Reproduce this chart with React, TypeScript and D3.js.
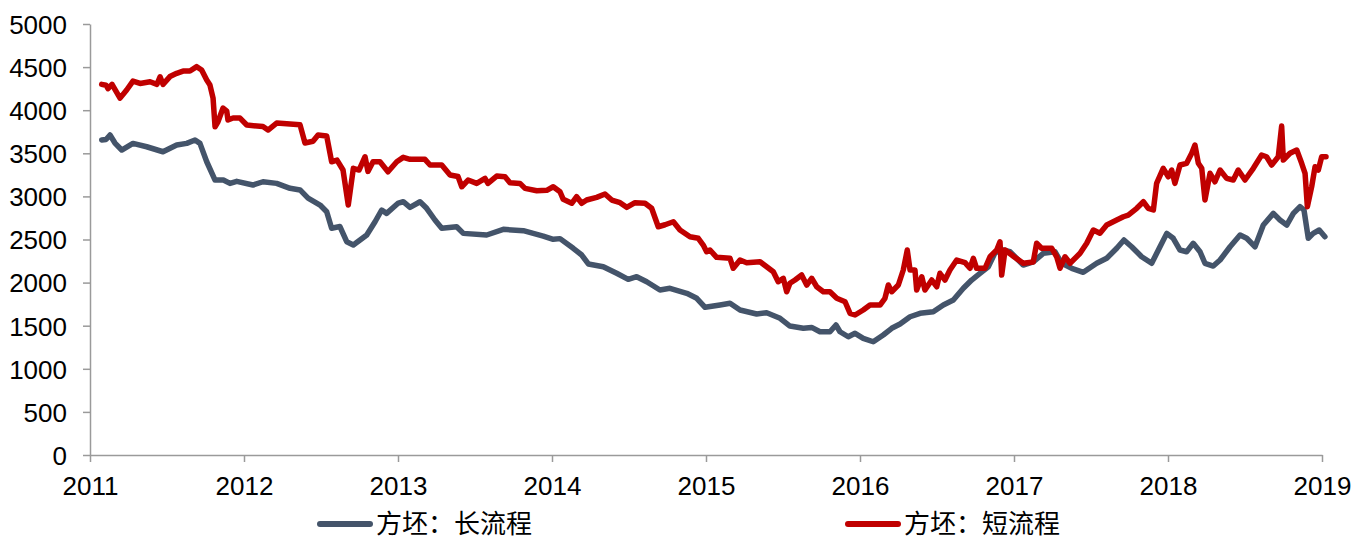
import React, { useEffect, useRef } from 'react';
import * as d3 from 'd3';

// [decimal year, price]
const longProcess: [number, number][] = [
  [2011.076, 3654], [2011.104, 3660], [2011.13, 3712], [2011.162, 3619], [2011.206, 3538],
  [2011.279, 3615], [2011.368, 3576], [2011.474, 3518], [2011.563, 3596], [2011.628, 3615],
  [2011.682, 3654], [2011.714, 3615], [2011.758, 3402], [2011.812, 3190], [2011.866, 3190],
  [2011.909, 3151], [2011.953, 3175], [2012.058, 3132], [2012.123, 3170], [2012.212, 3151],
  [2012.299, 3094], [2012.364, 3075], [2012.416, 2980], [2012.494, 2900], [2012.537, 2822],
  [2012.569, 2631], [2012.623, 2650], [2012.667, 2474], [2012.71, 2436], [2012.797, 2552],
  [2012.851, 2706], [2012.894, 2842], [2012.926, 2803], [2013.002, 2923], [2013.034, 2938],
  [2013.078, 2873], [2013.143, 2938], [2013.186, 2862], [2013.24, 2726], [2013.284, 2630],
  [2013.381, 2648], [2013.424, 2571], [2013.576, 2552], [2013.684, 2618], [2013.814, 2602],
  [2013.943, 2540], [2014.008, 2502], [2014.052, 2510], [2014.138, 2398], [2014.193, 2320],
  [2014.236, 2216], [2014.333, 2184], [2014.42, 2108], [2014.495, 2038], [2014.55, 2068],
  [2014.615, 2010], [2014.701, 1914], [2014.766, 1934], [2014.875, 1876], [2014.94, 1818],
  [2014.994, 1713], [2015.091, 1740], [2015.156, 1760], [2015.221, 1682], [2015.329, 1636],
  [2015.394, 1650], [2015.481, 1586], [2015.545, 1496], [2015.632, 1470], [2015.686, 1480],
  [2015.74, 1430], [2015.805, 1430], [2015.844, 1508], [2015.87, 1430], [2015.924, 1372],
  [2015.968, 1412], [2016.021, 1354], [2016.086, 1314], [2016.151, 1392], [2016.206, 1470],
  [2016.26, 1520], [2016.325, 1604], [2016.39, 1644], [2016.476, 1662], [2016.541, 1740],
  [2016.606, 1798], [2016.671, 1934], [2016.725, 2030], [2016.779, 2108], [2016.833, 2184],
  [2016.877, 2347], [2016.93, 2378], [2016.974, 2358], [2017.06, 2204], [2017.125, 2240],
  [2017.19, 2340], [2017.266, 2358], [2017.31, 2224], [2017.375, 2166], [2017.45, 2119],
  [2017.537, 2224], [2017.602, 2282], [2017.667, 2398], [2017.714, 2494], [2017.764, 2416],
  [2017.829, 2300], [2017.894, 2224], [2017.948, 2416], [2017.992, 2571], [2018.034, 2514],
  [2018.078, 2378], [2018.121, 2358], [2018.164, 2456], [2018.208, 2358], [2018.24, 2224],
  [2018.294, 2192], [2018.338, 2262], [2018.403, 2416], [2018.468, 2552], [2018.511, 2514],
  [2018.565, 2416], [2018.619, 2668], [2018.684, 2803], [2018.727, 2726], [2018.771, 2668],
  [2018.814, 2803], [2018.857, 2880], [2018.883, 2842], [2018.911, 2514], [2018.943, 2571],
  [2018.982, 2610], [2019.019, 2532]
];

const shortProcess: [number, number][] = [
  [2011.076, 4300], [2011.104, 4290], [2011.117, 4250], [2011.143, 4300], [2011.195, 4140],
  [2011.238, 4234], [2011.279, 4338], [2011.325, 4310], [2011.39, 4330], [2011.435, 4300],
  [2011.455, 4388], [2011.474, 4300], [2011.519, 4390], [2011.563, 4428], [2011.604, 4454],
  [2011.649, 4454], [2011.693, 4505], [2011.725, 4466], [2011.758, 4350], [2011.779, 4292],
  [2011.799, 4141], [2011.812, 3808], [2011.831, 3866], [2011.864, 4025], [2011.888, 3990],
  [2011.896, 3886], [2011.929, 3909], [2011.974, 3909], [2012.018, 3828], [2012.123, 3810],
  [2012.156, 3770], [2012.212, 3851], [2012.299, 3840], [2012.364, 3830], [2012.396, 3619],
  [2012.448, 3640], [2012.481, 3712], [2012.537, 3700], [2012.569, 3402], [2012.604, 3421],
  [2012.643, 3306], [2012.677, 2900], [2012.71, 3326], [2012.747, 3306], [2012.786, 3460],
  [2012.805, 3290], [2012.838, 3402], [2012.883, 3402], [2012.935, 3286], [2012.992, 3402],
  [2013.034, 3453], [2013.078, 3430], [2013.175, 3430], [2013.208, 3364], [2013.284, 3364],
  [2013.338, 3248], [2013.39, 3230], [2013.414, 3112], [2013.455, 3190], [2013.511, 3151],
  [2013.565, 3209], [2013.584, 3151], [2013.641, 3236], [2013.695, 3228], [2013.727, 3159],
  [2013.792, 3151], [2013.825, 3093], [2013.901, 3066], [2013.966, 3070], [2014.008, 3112],
  [2014.052, 3054], [2014.073, 2966], [2014.128, 2920], [2014.16, 2996], [2014.193, 2920],
  [2014.225, 2958], [2014.29, 2989], [2014.344, 3028], [2014.388, 2958], [2014.442, 2927],
  [2014.485, 2873], [2014.539, 2927], [2014.604, 2920], [2014.647, 2862], [2014.69, 2648],
  [2014.734, 2671], [2014.788, 2706], [2014.831, 2610], [2014.896, 2532], [2014.95, 2514],
  [2014.982, 2436], [2015.004, 2358], [2015.026, 2378], [2015.069, 2293], [2015.156, 2282],
  [2015.177, 2166], [2015.221, 2262], [2015.264, 2231], [2015.351, 2242], [2015.394, 2184],
  [2015.437, 2126], [2015.469, 2010], [2015.502, 2049], [2015.524, 1894], [2015.545, 1992],
  [2015.578, 2030], [2015.621, 2088], [2015.654, 1972], [2015.686, 2050], [2015.719, 1952],
  [2015.762, 1894], [2015.805, 1894], [2015.849, 1818], [2015.903, 1778], [2015.935, 1644],
  [2015.968, 1624], [2016.021, 1682], [2016.065, 1740], [2016.13, 1740], [2016.162, 1818],
  [2016.184, 1972], [2016.206, 1894], [2016.249, 1972], [2016.281, 2146], [2016.307, 2378],
  [2016.325, 2146], [2016.357, 2146], [2016.368, 1914], [2016.401, 2068], [2016.422, 1914],
  [2016.466, 2030], [2016.498, 1952], [2016.519, 2108], [2016.552, 2030], [2016.584, 2146],
  [2016.628, 2262], [2016.682, 2231], [2016.714, 2166], [2016.736, 2282], [2016.757, 2166],
  [2016.812, 2166], [2016.844, 2300], [2016.888, 2378], [2016.909, 2474], [2016.92, 2088],
  [2016.942, 2378], [2017.0, 2300], [2017.06, 2224], [2017.125, 2240], [2017.147, 2456],
  [2017.179, 2398], [2017.245, 2398], [2017.277, 2300], [2017.299, 2166], [2017.331, 2300],
  [2017.364, 2224], [2017.429, 2340], [2017.472, 2456], [2017.515, 2610], [2017.558, 2572],
  [2017.602, 2668], [2017.667, 2726], [2017.71, 2764], [2017.742, 2783], [2017.797, 2862],
  [2017.84, 2938], [2017.872, 2862], [2017.905, 2842], [2017.926, 3151], [2017.969, 3326],
  [2018.002, 3228], [2018.024, 3306], [2018.045, 3151], [2018.078, 3364], [2018.121, 3384],
  [2018.154, 3500], [2018.175, 3596], [2018.197, 3384], [2018.219, 3326], [2018.24, 2958],
  [2018.273, 3268], [2018.305, 3170], [2018.338, 3306], [2018.381, 3209], [2018.424, 3190],
  [2018.456, 3306], [2018.5, 3190], [2018.554, 3326], [2018.608, 3480], [2018.64, 3460],
  [2018.673, 3364], [2018.716, 3460], [2018.738, 3816], [2018.749, 3422], [2018.792, 3500],
  [2018.836, 3538], [2018.868, 3384], [2018.89, 3268], [2018.905, 2880], [2018.933, 3112],
  [2018.955, 3344], [2018.976, 3306], [2018.998, 3460], [2019.026, 3460]
];

const seriesNames = ['方坯：长流程', '方坯：短流程'];
const seriesColors = ['#44546A', '#C00000'];
const yearTicks = d3.range(2011, 2020);
const valueTicks = d3.range(0, 5001, 500);

export default function App() {
  const svgRef = useRef<SVGSVGElement>(null);

  useEffect(() => {
    const width = 1370;
    const height = 539;
    const margin = { top: 24, right: 48, bottom: 84, left: 90 };

    const svg = d3.select(svgRef.current);
    svg.selectAll('*').remove();

    const x = d3.scaleLinear()
      .domain([2011, 2019])
      .range([margin.left, width - margin.right]);
    const y = d3.scaleLinear()
      .domain([0, 5000])
      .range([height - margin.bottom, margin.top]);

    // axes
    const gx = svg.append('g')
      .attr('transform', `translate(0,${y(0)})`)
      .call(d3.axisBottom(x).tickValues(yearTicks).tickFormat(d3.format('d')).tickSize(7).tickSizeOuter(0));
    const gy = svg.append('g')
      .attr('transform', `translate(${x(2011)},0)`)
      .call(d3.axisLeft(y).tickValues(valueTicks).tickFormat(d3.format('d')).tickSize(7).tickSizeOuter(0));

    [gx, gy].forEach(g => {
      g.select('.domain').attr('stroke', '#9a9a9a').attr('stroke-width', 1.5);
      g.selectAll('.tick line').attr('stroke', '#9a9a9a').attr('stroke-width', 1.5);
      g.selectAll('.tick text')
        .attr('fill', '#000')
        .style('font-family', '"Liberation Sans", Arial, sans-serif')
        .style('font-size', '26px');
    });
    gx.selectAll('.tick text').attr('dy', 0).attr('y', 40);
    gy.selectAll('.tick text').attr('x', -23).attr('dy', '0.36em');

    // lines
    const line = d3.line<[number, number]>()
      .x(d => x(d[0]))
      .y(d => y(d[1]));

    [longProcess, shortProcess].forEach((data, i) => {
      svg.append('path')
        .datum(data)
        .attr('fill', 'none')
        .attr('stroke', seriesColors[i])
        .attr('stroke-width', 5.5)
        .attr('stroke-linejoin', 'round')
        .attr('stroke-linecap', 'round')
        .attr('d', line);
    });

    // legend
    const legendX = [320, 848];
    const legend = svg.append('g');
    seriesNames.forEach((name, i) => {
      legend.append('line')
        .attr('x1', legendX[i]).attr('x2', legendX[i] + 50)
        .attr('y1', 524).attr('y2', 524)
        .attr('stroke', seriesColors[i])
        .attr('stroke-width', 6)
        .attr('stroke-linecap', 'round');
      legend.append('text')
        .attr('x', legendX[i] + 56)
        .attr('y', 533)
        .attr('fill', '#000')
        .style('font-family', '"Noto Sans CJK SC", sans-serif')
        .style('font-size', '26px')
        .text(name);
    });
  }, []);

  return (
    <svg
      ref={svgRef}
      width={1370}
      height={539}
      style={{ position: 'absolute', left: 0, top: 0, background: '#fff' }}
    />
  );
}
